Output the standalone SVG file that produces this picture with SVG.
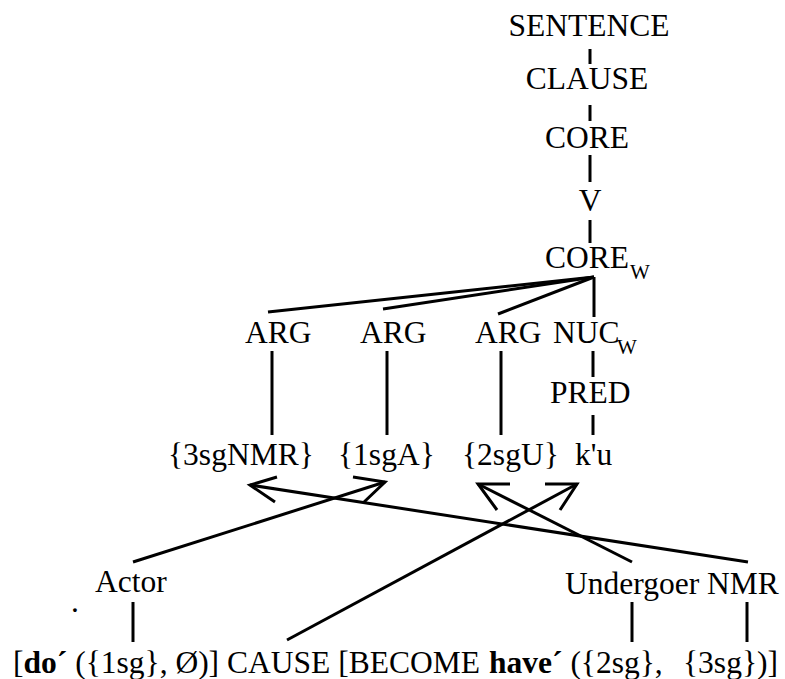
<svg xmlns="http://www.w3.org/2000/svg" width="785" height="679" viewBox="0 0 785 679">
<style>
text{font-family:"Liberation Serif","Times New Roman",serif;font-size:31.5px;fill:#000}
.sub{font-size:21px}
.b{font-weight:bold}
line,polyline{stroke:#000;stroke-width:3;fill:none;stroke-linecap:butt}
</style>
<rect width="785" height="679" fill="#fff"/>
<g id="sentence"><text x="589" y="36" text-anchor="middle">SENTENCE</text></g>
<g id="clause"><text x="587" y="89" text-anchor="middle">CLAUSE</text></g>
<g id="core"><text x="587" y="148" text-anchor="middle">CORE</text></g>
<g id="v"><text x="590" y="211" text-anchor="middle">V</text></g>
<g id="core-w"><text x="545" y="268">CORE</text><text class="sub" x="630" y="279">W</text></g>
<g id="arg1"><text x="245" y="343">ARG</text></g>
<g id="arg2"><text x="360" y="343">ARG</text></g>
<g id="arg3"><text x="475" y="343">ARG</text></g>
<g id="nuc-w"><text x="553" y="343">NUC</text><text class="sub" x="617" y="354">W</text></g>
<g id="pred"><text x="550" y="403">PRED</text></g>
<g id="nmr3sg"><text x="168" y="465">{3sgNMR}</text></g>
<g id="a1sg"><text x="338" y="465">{1sgA}</text></g>
<g id="u2sg"><text x="462" y="465">{2sgU}</text></g>
<g id="ku"><text x="575" y="465">k'u</text></g>
<g id="actor"><text x="95" y="592">Actor</text></g>
<g id="dot"><text x="71" y="612" font-size="20">.</text></g>
<g id="undergoer"><text x="565" y="594">Undergoer NMR</text></g>
<g id="logical-structure"><text x="13" y="673">[<tspan class="b">do´</tspan> ({1sg}, Ø)] <tspan x="227">CAUSE [BECOME </tspan><tspan x="489" class="b">have´</tspan> ({2sg}, <tspan x="683">{3sg})]</tspan></text></g>
<g id="connectors">
<line x1="590" y1="49" x2="590" y2="64"/>
<line x1="590" y1="105" x2="590" y2="121"/>
<line x1="590" y1="155" x2="590" y2="182"/>
<line x1="590" y1="220" x2="590" y2="243"/>
<line x1="594" y1="277" x2="268" y2="312"/>
<line x1="594" y1="277" x2="383" y2="309"/>
<line x1="594" y1="277" x2="498" y2="314"/>
<line x1="594" y1="277" x2="594" y2="317"/>
<line x1="272" y1="351" x2="272" y2="435"/>
<line x1="387" y1="351" x2="387" y2="435"/>
<line x1="501" y1="351" x2="501" y2="435"/>
<line x1="593" y1="351" x2="593" y2="377"/>
<line x1="593" y1="415" x2="593" y2="435"/>
<line x1="748" y1="562" x2="250" y2="485"/>
<polyline points="277,477 250,485 275,502"/>
<line x1="133" y1="562" x2="385" y2="482"/>
<polyline points="353,477 385,482 363,503"/>
<line x1="632" y1="562" x2="478" y2="484"/>
<polyline points="510,484 478,484 497,510"/>
<line x1="287" y1="640" x2="577" y2="484"/>
<polyline points="545,484 577,484 560,510"/>
<line x1="133" y1="602" x2="133" y2="642"/>
<line x1="632" y1="602" x2="632" y2="642"/>
<line x1="747" y1="602" x2="747" y2="642"/>
</g>
</svg>
